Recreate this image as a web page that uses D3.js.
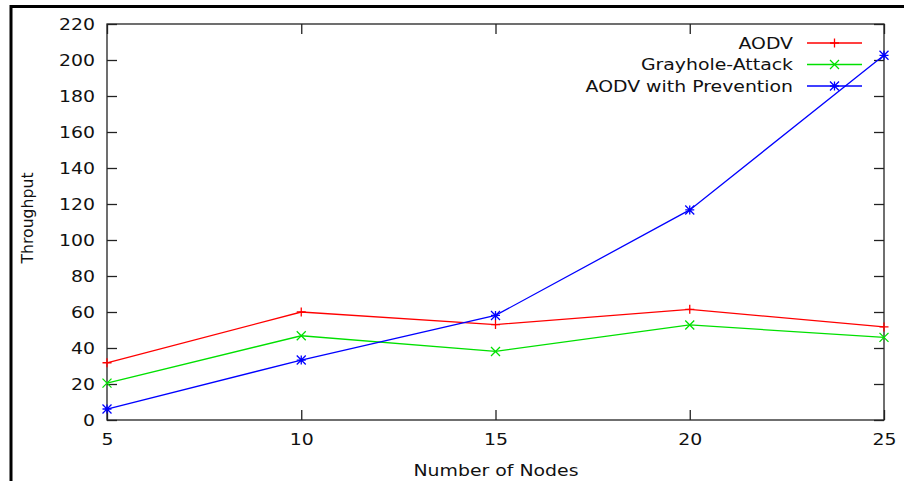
<!DOCTYPE html>
<html><head><meta charset="utf-8">
<script src="https://cdn.jsdelivr.net/npm/d3@7"></script>
<style>body{margin:0;background:#fff;} svg{display:block;} text{font-family:"DejaVu Sans",sans-serif;fill:#111;}</style>
</head><body>
<svg id="c" width="904" height="481"></svg>
<script>
const nodes = [5, 10, 15, 20, 25];
const aodv = [31.8, 60, 53, 61.5, 51.7];
const grayhole = [20.5, 46.8, 38.1, 52.8, 45.9];
const prevention = [6.1, 33.3, 58.1, 116.7, 202.6];
const yTicks = [0, 20, 40, 60, 80, 100, 120, 140, 160, 180, 200, 220];
const seriesNames = ["AODV", "Grayhole-Attack", "AODV with Prevention"];
const seriesColors = ["#ff0000", "#00e000", "#0000ff"];
const seriesMarkers = ["plus", "cross", "star"];

const svg = d3.select("#c");
const L = 107, R = 884, T = 24, B = 420;
const SX = 1.18;  // horizontal stretch of the text
const FS = 16;
const x = d3.scaleLinear().domain([5, 25]).range([L, R]);
const y = d3.scaleLinear().domain([0, 220]).range([B, T]);

function stretch(sel) {
  sel.each(function () {
    const t = d3.select(this);
    const xv = +(t.attr("x") || 0);
    t.attr("x", xv / SX).attr("transform", `scale(${SX},1)`);
  });
}

// outer border
svg.append("line").attr("x1", 11).attr("x2", 11).attr("y1", 5).attr("y2", 481).attr("stroke", "#000").attr("stroke-width", 3);
svg.append("line").attr("x1", 10).attr("x2", 904).attr("y1", 6.5).attr("y2", 6.5).attr("stroke", "#000").attr("stroke-width", 3);

// frame
svg.append("rect").attr("x", L).attr("y", T).attr("width", R - L).attr("height", B - T)
  .attr("fill", "none").attr("stroke", "#222").attr("stroke-width", 1.3);

// axes with inward ticks
const yl = svg.append("g").attr("transform", `translate(${L},0)`)
  .call(d3.axisLeft(y).tickValues(yTicks).tickSizeInner(-10).tickSizeOuter(0).tickPadding(12));
const yr = svg.append("g").attr("transform", `translate(${R},0)`)
  .call(d3.axisRight(y).tickValues(yTicks).tickSizeInner(-10).tickSizeOuter(0).tickFormat(""));
const xb = svg.append("g").attr("transform", `translate(0,${B})`)
  .call(d3.axisBottom(x).tickValues(nodes).tickSizeInner(-10).tickSizeOuter(0).tickPadding(14));
const xt = svg.append("g").attr("transform", `translate(0,${T})`)
  .call(d3.axisTop(x).tickValues(nodes).tickSizeInner(-10).tickSizeOuter(0).tickFormat(""));
[yl, yr, xb, xt].forEach(g => {
  g.select(".domain").remove();
  g.selectAll(".tick line").attr("stroke", "#222").attr("stroke-width", 1.3);
  g.selectAll("text").attr("font-family", "DejaVu Sans").attr("font-size", FS).attr("fill", "#111").call(stretch);
});

// titles
svg.append("text").attr("transform", "translate(33,218) rotate(-90)").attr("text-anchor", "middle")
  .attr("font-size", 15.7).text("Throughput");
svg.append("text").attr("x", 496).attr("y", 476).attr("text-anchor", "middle")
  .attr("font-size", FS).text("Number of Nodes").call(stretch);

function marker(g, type, cx, cy, color) {
  const s = 4.5;
  const p = d3.path();
  if (type === "plus" || type === "star") { p.moveTo(cx - s, cy); p.lineTo(cx + s, cy); p.moveTo(cx, cy - s); p.lineTo(cx, cy + s); }
  if (type === "cross" || type === "star") { p.moveTo(cx - s, cy - s); p.lineTo(cx + s, cy + s); p.moveTo(cx - s, cy + s); p.lineTo(cx + s, cy - s); }
  g.append("path").attr("d", p.toString()).attr("stroke", color).attr("stroke-width", 1.3).attr("fill", "none");
}

const data = [aodv, grayhole, prevention];
const line = d3.line().x((d, i) => x(nodes[i])).y(d => y(d));
data.forEach((vals, k) => {
  const g = svg.append("g");
  g.append("path").attr("d", line(vals)).attr("fill", "none").attr("stroke", seriesColors[k]).attr("stroke-width", 1.3);
  vals.forEach((v, i) => marker(g, seriesMarkers[k], x(nodes[i]), y(v), seriesColors[k]));
});

// legend
const legY = [43, 64.5, 86];
seriesNames.forEach((n, k) => {
  const g = svg.append("g");
  g.append("text").attr("x", 793).attr("y", legY[k]).attr("dy", "0.36em").attr("text-anchor", "end")
    .attr("font-size", FS).text(n).call(stretch);
  g.append("line").attr("x1", 807).attr("x2", 862).attr("y1", legY[k]).attr("y2", legY[k])
    .attr("stroke", seriesColors[k]).attr("stroke-width", 1.3);
  marker(g, seriesMarkers[k], 834.5, legY[k], seriesColors[k]);
});
</script>
</body></html>
